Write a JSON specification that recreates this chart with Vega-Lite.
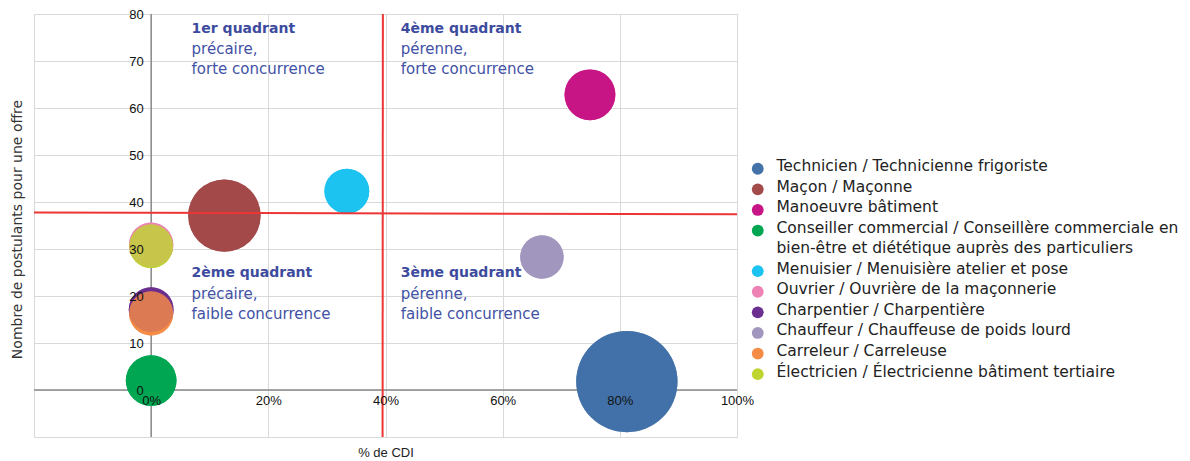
{
  "$schema": "https://vega.github.io/schema/vega-lite/v6.json",
  "autosize": {"type": "none"},
  "padding": {"left": 34, "top": 14, "right": 453, "bottom": 24},
  "width": 703,
  "height": 423,
  "background": "white",
  "config": {"view": {"stroke": "#d9d9d9", "strokeWidth": 1}},
  "datasets": {
    "metiers": [
      {"metier": "Technicien / Technicienne frigoriste", "cdi": 0.812, "postulants": 1.8, "taille": 100},
      {"metier": "Maçon / Maçonne", "cdi": 0.125, "postulants": 37.1, "taille": 51.1},
      {"metier": "Manoeuvre bâtiment", "cdi": 0.749, "postulants": 62.8, "taille": 25.2},
      {"metier": "Conseiller commercial / Conseillère commerciale en bien-être et diététique auprès des particuliers", "cdi": 0, "postulants": 2.0, "taille": 25.1},
      {"metier": "Menuisier / Menuisière atelier et pose", "cdi": 0.334, "postulants": 42.3, "taille": 19.6},
      {"metier": "Ouvrier / Ouvrière de la maçonnerie", "cdi": 0, "postulants": 30.9, "taille": 19.2},
      {"metier": "Charpentier / Charpentière", "cdi": 0, "postulants": 17.1, "taille": 19.6},
      {"metier": "Chauffeur / Chauffeuse de poids lourd", "cdi": 0.667, "postulants": 28.3, "taille": 18.4},
      {"metier": "Carreleur / Carreleuse", "cdi": 0, "postulants": 16.3, "taille": 19.0},
      {"metier": "Électricien / Électricienne bâtiment tertiaire", "cdi": 0, "postulants": 30.6, "taille": 18.7}
    ],
    "seuils": [
      {"x": 0.3955, "y": 80, "x2": 0.395, "y2": -10},
      {"x": -0.2, "y": 37.75, "x2": 1.0, "y2": 37.38}
    ],
    "notes": [
      {"x": 0.069, "y": 76.9, "texte": "1er quadrant", "kind": "titre"},
      {"x": 0.069, "y": 72.6, "texte": "précaire,", "kind": "desc"},
      {"x": 0.069, "y": 68.4, "texte": "forte concurrence", "kind": "desc"},
      {"x": 0.426, "y": 76.9, "texte": "4ème quadrant", "kind": "titre"},
      {"x": 0.426, "y": 72.6, "texte": "pérenne,", "kind": "desc"},
      {"x": 0.426, "y": 68.4, "texte": "forte concurrence", "kind": "desc"},
      {"x": 0.069, "y": 24.8, "texte": "2ème quadrant", "kind": "titre"},
      {"x": 0.069, "y": 20.4, "texte": "précaire,", "kind": "desc"},
      {"x": 0.069, "y": 16.1, "texte": "faible concurrence", "kind": "desc"},
      {"x": 0.426, "y": 24.8, "texte": "3ème quadrant", "kind": "titre"},
      {"x": 0.426, "y": 20.4, "texte": "pérenne,", "kind": "desc"},
      {"x": 0.426, "y": 16.1, "texte": "faible concurrence", "kind": "desc"}
    ]
  },
  "resolve": {"axis": {"x": "independent", "y": "independent"}},
  "layer": [
    {
      "data": {"values": [{}]},
      "mark": {"type": "rule", "color": "#888888", "strokeWidth": 1.5},
      "encoding": {
        "x": {
          "datum": 0, "type": "quantitative",
          "scale": {"domain": [-0.2, 1], "nice": false, "zero": false},
          "axis": {
            "orient": "bottom",
            "title": "% de CDI", "values": [-0.2, 0, 0.2, 0.4, 0.6, 0.8, 1],
            "grid": true, "gridColor": "#d9d9d9", "gridWidth": 1,
            "labels": false, "ticks": false, "domain": false,
            "titleFont": "Liberation Sans Narrow, Liberation Sans", "titleFontSize": 13, "titleFontWeight": "normal",
            "titleColor": "#222222", "titlePadding": 9, "zindex": 0
          }
        }
      }
    },
    {
      "data": {"values": [{}]},
      "mark": {"type": "rule", "color": "#888888", "strokeWidth": 1.5},
      "encoding": {
        "y": {
          "datum": 0, "type": "quantitative",
          "scale": {"domain": [-10, 80], "nice": false, "zero": false},
          "axis": {
            "orient": "left",
            "title": "Nombre de postulants pour une offre", "values": [-10, 0, 10, 20, 30, 40, 50, 60, 70, 80],
            "grid": true, "gridColor": "#d9d9d9", "gridWidth": 1,
            "labels": false, "ticks": false, "domain": false,
            "titleFont": "DejaVu Sans", "titleFontSize": 14, "titleFontWeight": "normal",
            "titleColor": "#333333", "titlePadding": 10, "titleY": 215, "zindex": 0
          }
        }
      }
    },
    {
      "data": {"name": "metiers"},
      "mark": {"type": "circle", "opacity": 1},
      "encoding": {
        "x": {"field": "cdi", "type": "quantitative", "axis": null},
        "y": {"field": "postulants", "type": "quantitative", "axis": null},
        "size": {"field": "taille", "type": "quantitative", "scale": {"domain": [0, 100], "range": [0, 10260]}, "legend": null},
        "color": {
          "field": "metier", "type": "nominal",
          "scale": {
            "domain": [
              "Technicien / Technicienne frigoriste",
              "Maçon / Maçonne",
              "Manoeuvre bâtiment",
              "Conseiller commercial / Conseillère commerciale en bien-être et diététique auprès des particuliers",
              "Menuisier / Menuisière atelier et pose",
              "Ouvrier / Ouvrière de la maçonnerie",
              "Charpentier / Charpentière",
              "Chauffeur / Chauffeuse de poids lourd",
              "Carreleur / Carreleuse",
              "Électricien / Électricienne bâtiment tertiaire"
            ],
            "range": ["#4272A8", "#A34A4A", "#C81585", "#00A651", "#1CC2F0", "#EE82B5", "#6B2F8F", "#A196BE", "#F58C45", "#BDD431"]
          },
          "legend": {
            "title": null, "orient": "none", "legendX": 716, "legendY": 147, "padding": 0,
            "symbolType": "circle", "symbolSize": 140, "symbolOpacity": 1, "symbolStrokeWidth": 0,
            "labelFont": "DejaVu Sans", "labelFontSize": 15.5, "labelColor": "#222222", "labelLimit": 0,
            "labelOffset": 11, "rowPadding": 4.6, "labelBaseline": "top",
            "labelExpr": "datum.label == 'Conseiller commercial / Conseillère commerciale en bien-être et diététique auprès des particuliers' ? ['Conseiller commercial / Conseillère commerciale en', 'bien-être et diététique auprès des particuliers'] : datum.label",
            "encode": {"labels": {"update": {"dy": {"value": -9.5}, "lineHeight": {"value": 19.5}}}}
          }
        }
      }
    },
    {
      "data": {"name": "metiers"},
      "mark": {"type": "circle", "opacity": 0.75},
      "encoding": {
        "x": {"field": "cdi", "type": "quantitative", "axis": null},
        "y": {"field": "postulants", "type": "quantitative", "axis": null},
        "size": {"field": "taille", "type": "quantitative", "legend": null},
        "color": {"field": "metier", "type": "nominal"}
      }
    },
    {
      "data": {"name": "seuils"},
      "mark": {"type": "rule", "color": "#EE3535", "strokeWidth": 2},
      "encoding": {
        "x": {
          "field": "x", "type": "quantitative",
          "axis": {
            "orient": "bottom",
            "title": null, "values": [0, 0.2, 0.4, 0.6, 0.8, 1], "format": ".0%",
            "grid": false, "ticks": false, "domain": false, "offset": -46.6,
            "labelPadding": 4, "labelFlush": false, "labelOverlap": false,
            "labelFont": "Liberation Sans Narrow, Liberation Sans", "labelFontSize": 13, "labelColor": "#111111", "zindex": 1
          }
        },
        "x2": {"field": "x2"},
        "y": {
          "field": "y", "type": "quantitative",
          "axis": {
            "orient": "left",
            "title": null, "values": [0, 10, 20, 30, 40, 50, 60, 70, 80],
            "grid": false, "ticks": false, "domain": false, "offset": -117.2,
            "labelPadding": 8, "labelFlush": false, "labelOverlap": false,
            "labelFont": "Liberation Sans Narrow, Liberation Sans", "labelFontSize": 13, "labelColor": "#111111", "zindex": 1
          }
        },
        "y2": {"field": "y2"}
      }
    },
    {
      "data": {"name": "notes"},
      "transform": [{"filter": "datum.kind == 'titre'"}],
      "mark": {"type": "text", "align": "left", "baseline": "middle", "font": "DejaVu Sans", "fontSize": 14, "fontWeight": "bold", "color": "#3D4B9E"},
      "encoding": {
        "x": {"field": "x", "type": "quantitative", "axis": null},
        "y": {"field": "y", "type": "quantitative", "axis": null},
        "text": {"field": "texte"}
      }
    },
    {
      "data": {"name": "notes"},
      "transform": [{"filter": "datum.kind == 'desc'"}],
      "mark": {"type": "text", "align": "left", "baseline": "middle", "font": "DejaVu Sans", "fontSize": 15, "color": "#4252A5"},
      "encoding": {
        "x": {"field": "x", "type": "quantitative", "axis": null},
        "y": {"field": "y", "type": "quantitative", "axis": null},
        "text": {"field": "texte"}
      }
    }
  ]
}
